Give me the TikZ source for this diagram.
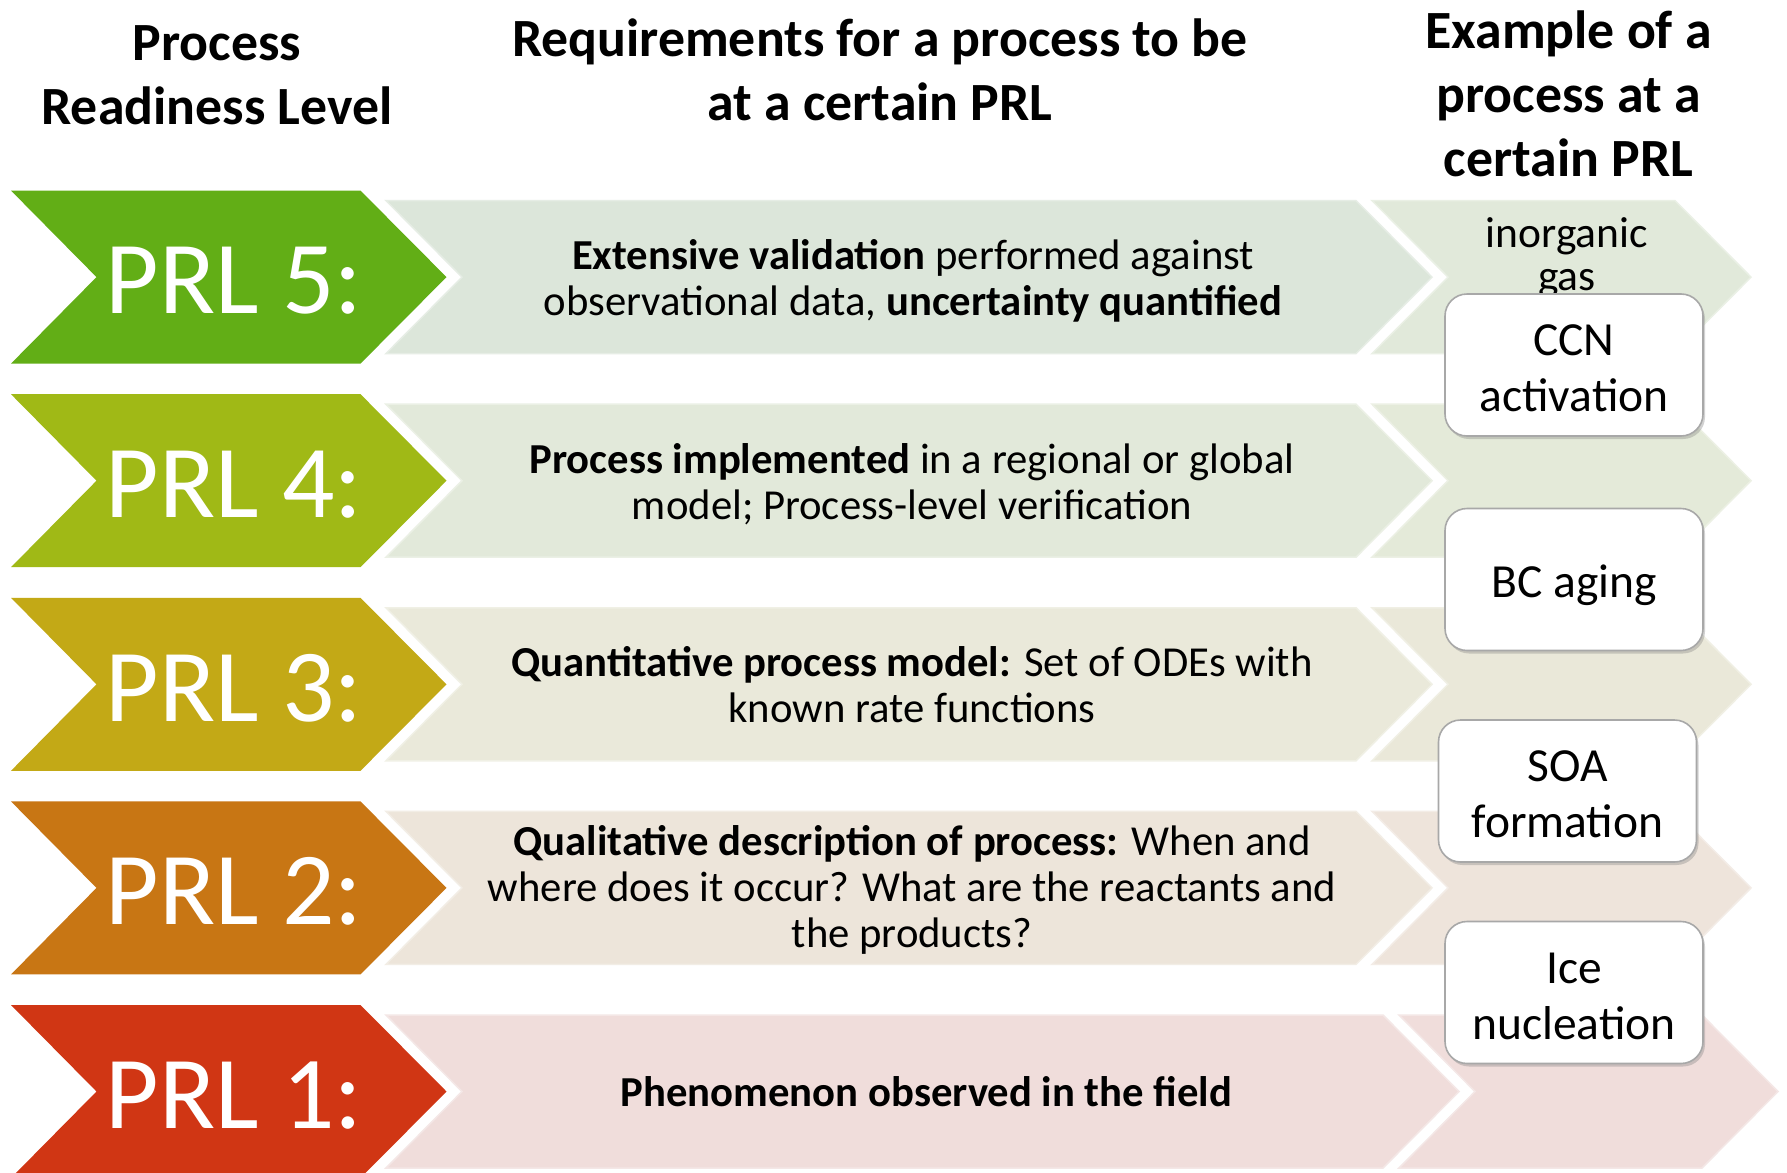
\documentclass[tikz,border=0pt]{standalone}
\usepackage{fontspec}
\setmainfont{Carlito}
\usetikzlibrary{shadows}
\definecolor{c5}{HTML}{62AE16}
\definecolor{c4}{HTML}{A0B916}
\definecolor{c3}{HTML}{C3A916}
\definecolor{c2}{HTML}{C87614}
\definecolor{c1}{HTML}{D03614}
\definecolor{m5}{HTML}{DCE6DA}
\definecolor{r5}{HTML}{E1E9DA}
\definecolor{m4}{HTML}{E2E9DA}
\definecolor{r4}{HTML}{E4EAD9}
\definecolor{m3}{HTML}{EAE9DA}
\definecolor{r3}{HTML}{EAE8D9}
\definecolor{m2}{HTML}{EDE5DA}
\definecolor{r2}{HTML}{EEE4DB}
\definecolor{m1}{HTML}{F0DDDB}
\definecolor{r1}{HTML}{F0DDDB}
\definecolor{boxline}{HTML}{A8A8A8}
\newcommand{\chevpath}[6]{(#1,#5) -- (#3,#5) -- (#4,#5+#6) -- (#3,#5+2*#6) -- (#1,#5+2*#6) -- (#2,#5+#6) -- cycle}
\newcommand{\boxstrut}[1]{\rule{0pt}{#1}}
\tikzset{
  header/.style={font=\bfseries\fontsize{53.8}{64}\selectfont, align=center, anchor=base, inner sep=0pt},
  prllabel/.style={font=\fontsize{103.5}{120}\selectfont, text=white, anchor=base, inner sep=0pt},
  reqtext/.style={font=\fontsize{42.7}{46}\selectfont, align=center, anchor=base, inner sep=0pt},
  exbox/.style={draw=boxline, line width=1.6pt, fill=white, rounded corners=22pt,
    minimum width=258pt, minimum height=142pt, align=center, inner sep=0pt,
    font=\fontsize{47.5}{56}\selectfont, text depth=-7pt,
    drop shadow={shadow xshift=2pt, shadow yshift=-3pt, opacity=0.35}},
  extext/.style={font=\fontsize{43.5}{43}\selectfont, align=center, anchor=base, inner sep=0pt}
}
\begin{document}
\begin{tikzpicture}[x=1pt,y=-1pt]
\useasboundingbox[fill=white] (0,0) rectangle (1787,1172);
\foreach \k/\col/\m/\r/\e in {0/c5/m5/r5/0, 1/c4/m4/r4/0, 2/c3/m3/r3/0, 3/c2/m2/r2/0, 4/c1/m1/r1/27}{
  \pgfmathsetmacro{\T}{190.6+\k*203.6}
  \pgfmathsetmacro{\Tb}{\T+10}
  \fill[\col] \chevpath{11}{96.5}{360.5}{446.5}{\T}{86.5};
  \filldraw[fill=\m, draw=\m!70!white, line width=1.5pt] \chevpath{386}{462}{1356+\e}{1432+\e}{\Tb}{76.5};
  \filldraw[fill=\r, draw=\r!70!white, line width=1.5pt] \chevpath{1372+\e}{1448+\e}{1675+\e}{1751+\e}{\Tb}{76.5};
}
% headers (anchor base = last line)
\node[header] (h1) at (217,124) {Process\\Readiness Level};
\node[header] (h2) at (880,120) {Requirements for a process to be\\at a certain PRL};
\node[header] (h3) at (1568.5,176.5) {Example of a\\process at a\\certain PRL};
% PRL labels
\node[prllabel] (p5) at (234,313.8) {PRL 5:};
\node[prllabel] (p4) at (234,517.4) {PRL 4:};
\node[prllabel] (p3) at (234,721.0) {PRL 3:};
\node[prllabel] (p2) at (234,924.6) {PRL 2:};
\node[prllabel] (p1) at (234,1128.2) {PRL 1:};
% requirement texts
\node[reqtext] (t5) at (913,315.5) {\textbf{Extensive validation} performed against\\observational data, \textbf{uncertainty quantified}};
\node[reqtext] (t4) at (912,519.5) {\textbf{Process implemented} in a regional or global\\model; Process-level verification};
\node[reqtext] (t3) at (912,722) {\textbf{Quantitative process model:} Set of ODEs with\\known rate functions};
\node[reqtext] (t2) at (912,947.5) {\textbf{Qualitative description of process:} When and\\where does it occur? What are the reactants and\\the products?};
\node[reqtext] (t1) at (926.5,1106) {\textbf{Phenomenon observed in the field}};
% examples
\node[extext] (g) at (1567,290) {inorganic\\gas};
\node[exbox] (b1) at (1574,365) {\boxstrut{37pt}CCN\\activation};
\node[exbox, text depth=0pt] (b2) at (1574,579.5) {\boxstrut{36pt}BC aging};
\node[exbox] (b3) at (1567.5,791) {\boxstrut{37pt}SOA\\formation};
\node[exbox] (b4) at (1574,992.5) {\boxstrut{37pt}Ice\\nucleation};
\end{tikzpicture}
\end{document}
